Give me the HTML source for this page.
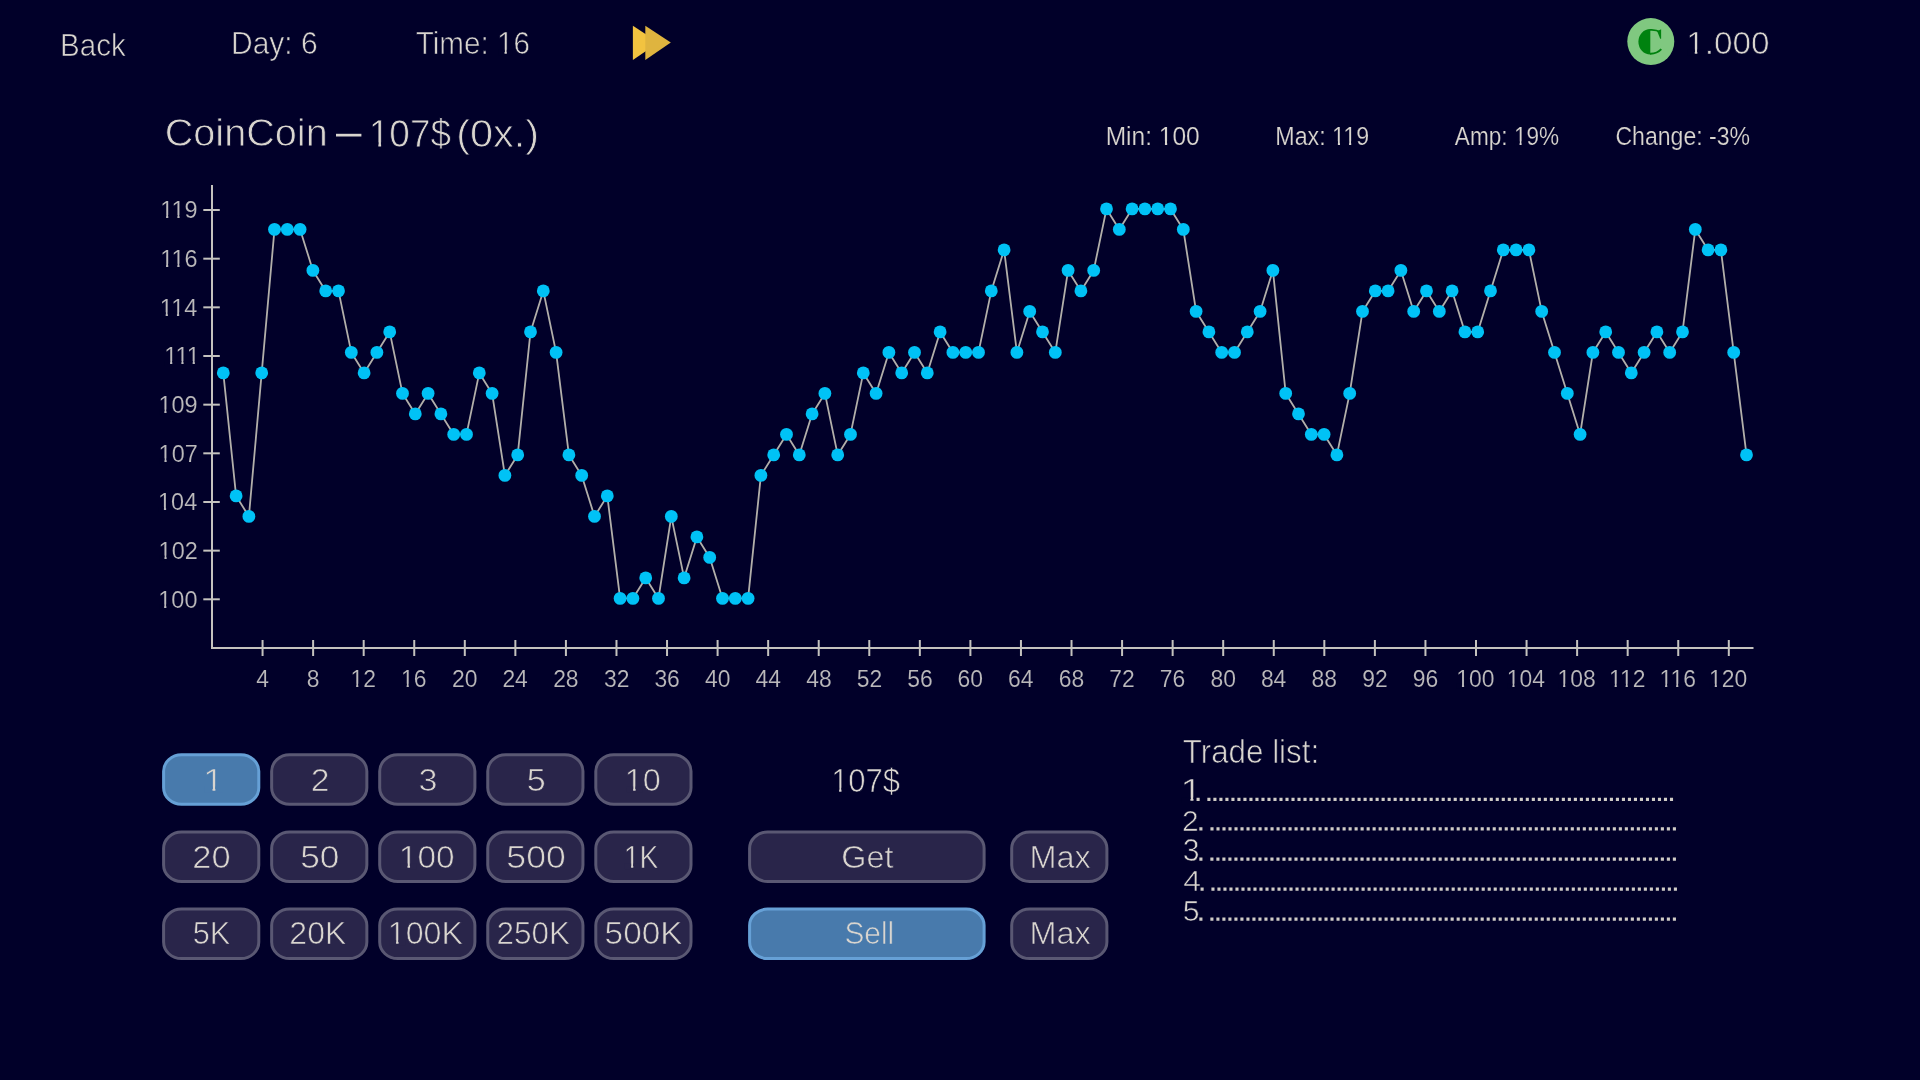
<!DOCTYPE html>
<html><head><meta charset="utf-8"><style>
html,body{margin:0;padding:0;background:#010029;width:1920px;height:1080px;overflow:hidden}
svg{display:block;will-change:transform}
</style></head><body>
<svg width="1920" height="1080" viewBox="0 0 1920 1080"><rect width="1920" height="1080" fill="#010029"/>
<g transform="translate(60.05,56.03) scale(0.9354,1)"><text font-size="31.63" fill="#d9d5cf" stroke="#010029" stroke-width="0.66" font-family="Liberation Sans" font-weight="normal">Back</text></g>
<g transform="translate(231.01,53.53) scale(0.9618,1)"><text font-size="31.18" fill="#d9d5cf" stroke="#010029" stroke-width="0.65" font-family="Liberation Sans" font-weight="normal">Day: 6</text></g>
<g transform="translate(415.72,53.63) scale(0.9322,1)"><text font-size="31.78" fill="#d9d5cf" stroke="#010029" stroke-width="0.67" font-family="Liberation Sans" font-weight="normal">Time: 16</text><path fill="#010029" d="M88.42 -3.97h6.85v5.67h-6.85zM97.71 -3.97h6.51v5.67h-6.51z"/></g>
<polygon points="632.9,25.8 658.4,42.6 632.9,60" fill="#f2c340"/>
<polygon points="645.3,25.8 670.8,42.6 645.3,60" fill="#dfb43f"/>
<circle cx="1650.8" cy="41.6" r="23.5" fill="#80c880"/>
<path d="M1650.3,29 A11.9,12.8 0 0 0 1650.3,54.6 Z" fill="#00820f"/>
<path d="M1650,29.9 Q1656,29.4 1660.5,32.2" fill="none" stroke="#00820f" stroke-width="1.8"/>
<path d="M1657.2,31.2 L1661.1,29.3 L1661.1,38.8 L1660.2,38.8 Z" fill="#00820f"/>
<path d="M1650,53.7 Q1657,53.9 1661.3,49.2" fill="none" stroke="#00820f" stroke-width="1.9"/>
<g transform="translate(1686.18,53.53) scale(1.0537,1)"><text font-size="31.63" fill="#d9d5cf" stroke="#010029" stroke-width="0.66" font-family="Liberation Sans" font-weight="normal">1.000</text><path fill="#010029" d="M1.32 -3.96h6.82v5.66h-6.82zM10.57 -3.96h6.48v5.66h-6.48z"/></g>
<g transform="translate(164.70,146.02) scale(1.0013,1)"><text font-size="39.58" fill="#d9d5cf" stroke="#010029" stroke-width="0.83" font-family="Liberation Sans" font-weight="normal">CoinCoin</text></g>
<rect x="336" y="133.8" width="25.4" height="2.7" fill="#d9d5cf"/>
<g transform="translate(368.80,146.71) scale(0.9445,1)"><text font-size="39.13" fill="#d9d5cf" stroke="#010029" stroke-width="0.82" font-family="Liberation Sans" font-weight="normal">107$</text><path fill="#010029" d="M1.87 -4.52h8.23v6.22h-8.23zM13.04 -4.52h7.81v6.22h-7.81z"/></g>
<g transform="translate(456.17,146.71) scale(1.0606,1)"><text font-size="39.13" fill="#d9d5cf" stroke="#010029" stroke-width="0.82" font-family="Liberation Sans" font-weight="normal">(0x.)</text></g>
<g transform="translate(1105.68,144.60) scale(0.9814,1)"><text font-size="25.00" fill="#d9d5cf" stroke="#010029" stroke-width="0.20" font-family="Liberation Sans" font-weight="normal">Min: 100</text><path fill="#010029" d="M54.96 -3.47h5.41v5.17h-5.41zM62.67 -3.47h5.14v5.17h-5.14z"/></g>
<g transform="translate(1275.29,144.60) scale(0.9298,1)"><text font-size="25.00" fill="#d9d5cf" stroke="#010029" stroke-width="0.20" font-family="Liberation Sans" font-weight="normal">Max: 119</text><path fill="#010029" d="M61.90 -3.47h5.41v5.17h-5.41zM69.62 -3.47h5.14v5.17h-5.14zM73.94 -3.47h5.41v5.17h-5.41zM81.66 -3.47h5.14v5.17h-5.14z"/></g>
<g transform="translate(1454.85,144.70) scale(0.8990,1)"><text font-size="25.15" fill="#d9d5cf" stroke="#010029" stroke-width="0.20" font-family="Liberation Sans" font-weight="normal">Amp: 19%</text><path fill="#010029" d="M66.51 -3.48h5.43v5.18h-5.43zM74.26 -3.48h5.16v5.18h-5.16z"/></g>
<g transform="translate(1615.45,144.70) scale(0.9172,1)"><text font-size="25.15" fill="#d9d5cf" stroke="#010029" stroke-width="0.20" font-family="Liberation Sans" font-weight="normal">Change: -3%</text></g>
<line x1="212" y1="185" x2="212" y2="649" stroke="#c4c2be" stroke-width="2"/>
<line x1="211" y1="648" x2="1753.5" y2="648" stroke="#c4c2be" stroke-width="2"/>
<line x1="203.3" y1="599.30" x2="219.8" y2="599.30" stroke="#c4c2be" stroke-width="2"/>
<g transform="translate(158.32,607.67) scale(0.9700,1)"><text font-size="24.19" fill="#bbb9bb" stroke="#010029" stroke-width="0.15" font-family="Liberation Sans" font-weight="normal">100</text><path fill="#010029" d="M0.77 -3.41h5.23v5.11h-5.23zM8.30 -3.41h4.97v5.11h-4.97z"/></g>
<line x1="203.3" y1="550.64" x2="219.8" y2="550.64" stroke="#c4c2be" stroke-width="2"/>
<g transform="translate(158.61,559.01) scale(0.9700,1)"><text font-size="24.19" fill="#bbb9bb" stroke="#010029" stroke-width="0.15" font-family="Liberation Sans" font-weight="normal">102</text><path fill="#010029" d="M0.77 -3.41h5.23v5.11h-5.23zM8.30 -3.41h4.97v5.11h-4.97z"/></g>
<line x1="203.3" y1="501.98" x2="219.8" y2="501.98" stroke="#c4c2be" stroke-width="2"/>
<g transform="translate(158.08,510.35) scale(0.9700,1)"><text font-size="24.19" fill="#bbb9bb" stroke="#010029" stroke-width="0.15" font-family="Liberation Sans" font-weight="normal">104</text><path fill="#010029" d="M0.77 -3.41h5.23v5.11h-5.23zM8.30 -3.41h4.97v5.11h-4.97z"/></g>
<line x1="203.3" y1="453.32" x2="219.8" y2="453.32" stroke="#c4c2be" stroke-width="2"/>
<g transform="translate(158.61,461.69) scale(0.9700,1)"><text font-size="24.19" fill="#bbb9bb" stroke="#010029" stroke-width="0.15" font-family="Liberation Sans" font-weight="normal">107</text><path fill="#010029" d="M0.77 -3.41h5.23v5.11h-5.23zM8.30 -3.41h4.97v5.11h-4.97z"/></g>
<line x1="203.3" y1="404.66" x2="219.8" y2="404.66" stroke="#c4c2be" stroke-width="2"/>
<g transform="translate(158.49,413.03) scale(0.9700,1)"><text font-size="24.19" fill="#bbb9bb" stroke="#010029" stroke-width="0.15" font-family="Liberation Sans" font-weight="normal">109</text><path fill="#010029" d="M0.77 -3.41h5.23v5.11h-5.23zM8.30 -3.41h4.97v5.11h-4.97z"/></g>
<line x1="203.3" y1="356.00" x2="219.8" y2="356.00" stroke="#c4c2be" stroke-width="2"/>
<g transform="translate(164.24,364.37) scale(0.9700,1)"><text font-size="24.19" fill="#bbb9bb" stroke="#010029" stroke-width="0.15" font-family="Liberation Sans" font-weight="normal">111</text><path fill="#010029" d="M0.77 -3.41h5.23v5.11h-5.23zM8.30 -3.41h4.97v5.11h-4.97zM12.41 -3.41h5.23v5.11h-5.23zM19.94 -3.41h4.97v5.11h-4.97zM24.06 -3.41h5.23v5.11h-5.23zM31.58 -3.41h4.97v5.11h-4.97z"/></g>
<line x1="203.3" y1="307.34" x2="219.8" y2="307.34" stroke="#c4c2be" stroke-width="2"/>
<g transform="translate(159.84,315.71) scale(0.9700,1)"><text font-size="24.19" fill="#bbb9bb" stroke="#010029" stroke-width="0.15" font-family="Liberation Sans" font-weight="normal">114</text><path fill="#010029" d="M0.77 -3.41h5.23v5.11h-5.23zM8.30 -3.41h4.97v5.11h-4.97zM12.41 -3.41h5.23v5.11h-5.23zM19.94 -3.41h4.97v5.11h-4.97z"/></g>
<line x1="203.3" y1="258.68" x2="219.8" y2="258.68" stroke="#c4c2be" stroke-width="2"/>
<g transform="translate(160.20,267.05) scale(0.9700,1)"><text font-size="24.19" fill="#bbb9bb" stroke="#010029" stroke-width="0.15" font-family="Liberation Sans" font-weight="normal">116</text><path fill="#010029" d="M0.77 -3.41h5.23v5.11h-5.23zM8.30 -3.41h4.97v5.11h-4.97zM12.41 -3.41h5.23v5.11h-5.23zM19.94 -3.41h4.97v5.11h-4.97z"/></g>
<line x1="203.3" y1="210.02" x2="219.8" y2="210.02" stroke="#c4c2be" stroke-width="2"/>
<g transform="translate(160.25,218.39) scale(0.9700,1)"><text font-size="24.19" fill="#bbb9bb" stroke="#010029" stroke-width="0.15" font-family="Liberation Sans" font-weight="normal">119</text><path fill="#010029" d="M0.77 -3.41h5.23v5.11h-5.23zM8.30 -3.41h4.97v5.11h-4.97zM12.41 -3.41h5.23v5.11h-5.23zM19.94 -3.41h4.97v5.11h-4.97z"/></g>
<line x1="262.56" y1="640" x2="262.56" y2="656" stroke="#c4c2be" stroke-width="2"/>
<g transform="translate(256.26,687.17) scale(0.9700,1)"><text font-size="23.61" fill="#bbb9bb" stroke="#010029" stroke-width="0.14" font-family="Liberation Sans" font-weight="normal">4</text></g>
<line x1="313.12" y1="640" x2="313.12" y2="656" stroke="#c4c2be" stroke-width="2"/>
<g transform="translate(306.77,687.17) scale(0.9700,1)"><text font-size="23.61" fill="#bbb9bb" stroke="#010029" stroke-width="0.14" font-family="Liberation Sans" font-weight="normal">8</text></g>
<line x1="363.68" y1="640" x2="363.68" y2="656" stroke="#c4c2be" stroke-width="2"/>
<g transform="translate(350.46,687.17) scale(0.9700,1)"><text font-size="23.61" fill="#bbb9bb" stroke="#010029" stroke-width="0.14" font-family="Liberation Sans" font-weight="normal">12</text><path fill="#010029" d="M0.73 -3.36h5.13v5.06h-5.13zM8.10 -3.36h4.87v5.06h-4.87z"/></g>
<line x1="414.24" y1="640" x2="414.24" y2="656" stroke="#c4c2be" stroke-width="2"/>
<g transform="translate(400.93,687.17) scale(0.9700,1)"><text font-size="23.61" fill="#bbb9bb" stroke="#010029" stroke-width="0.14" font-family="Liberation Sans" font-weight="normal">16</text><path fill="#010029" d="M0.73 -3.36h5.13v5.06h-5.13zM8.10 -3.36h4.87v5.06h-4.87z"/></g>
<line x1="464.80" y1="640" x2="464.80" y2="656" stroke="#c4c2be" stroke-width="2"/>
<g transform="translate(451.95,687.17) scale(0.9700,1)"><text font-size="23.61" fill="#bbb9bb" stroke="#010029" stroke-width="0.14" font-family="Liberation Sans" font-weight="normal">20</text></g>
<line x1="515.36" y1="640" x2="515.36" y2="656" stroke="#c4c2be" stroke-width="2"/>
<g transform="translate(502.39,687.17) scale(0.9700,1)"><text font-size="23.61" fill="#bbb9bb" stroke="#010029" stroke-width="0.14" font-family="Liberation Sans" font-weight="normal">24</text></g>
<line x1="565.92" y1="640" x2="565.92" y2="656" stroke="#c4c2be" stroke-width="2"/>
<g transform="translate(553.13,687.17) scale(0.9700,1)"><text font-size="23.61" fill="#bbb9bb" stroke="#010029" stroke-width="0.14" font-family="Liberation Sans" font-weight="normal">28</text></g>
<line x1="616.48" y1="640" x2="616.48" y2="656" stroke="#c4c2be" stroke-width="2"/>
<g transform="translate(603.91,687.17) scale(0.9700,1)"><text font-size="23.61" fill="#bbb9bb" stroke="#010029" stroke-width="0.14" font-family="Liberation Sans" font-weight="normal">32</text></g>
<line x1="667.04" y1="640" x2="667.04" y2="656" stroke="#c4c2be" stroke-width="2"/>
<g transform="translate(654.39,687.17) scale(0.9700,1)"><text font-size="23.61" fill="#bbb9bb" stroke="#010029" stroke-width="0.14" font-family="Liberation Sans" font-weight="normal">36</text></g>
<line x1="717.60" y1="640" x2="717.60" y2="656" stroke="#c4c2be" stroke-width="2"/>
<g transform="translate(705.06,687.17) scale(0.9700,1)"><text font-size="23.61" fill="#bbb9bb" stroke="#010029" stroke-width="0.14" font-family="Liberation Sans" font-weight="normal">40</text></g>
<line x1="768.16" y1="640" x2="768.16" y2="656" stroke="#c4c2be" stroke-width="2"/>
<g transform="translate(755.51,687.17) scale(0.9700,1)"><text font-size="23.61" fill="#bbb9bb" stroke="#010029" stroke-width="0.14" font-family="Liberation Sans" font-weight="normal">44</text></g>
<line x1="818.72" y1="640" x2="818.72" y2="656" stroke="#c4c2be" stroke-width="2"/>
<g transform="translate(806.24,687.17) scale(0.9700,1)"><text font-size="23.61" fill="#bbb9bb" stroke="#010029" stroke-width="0.14" font-family="Liberation Sans" font-weight="normal">48</text></g>
<line x1="869.28" y1="640" x2="869.28" y2="656" stroke="#c4c2be" stroke-width="2"/>
<g transform="translate(856.69,687.17) scale(0.9700,1)"><text font-size="23.61" fill="#bbb9bb" stroke="#010029" stroke-width="0.14" font-family="Liberation Sans" font-weight="normal">52</text></g>
<line x1="919.84" y1="640" x2="919.84" y2="656" stroke="#c4c2be" stroke-width="2"/>
<g transform="translate(907.16,687.17) scale(0.9700,1)"><text font-size="23.61" fill="#bbb9bb" stroke="#010029" stroke-width="0.14" font-family="Liberation Sans" font-weight="normal">56</text></g>
<line x1="970.40" y1="640" x2="970.40" y2="656" stroke="#c4c2be" stroke-width="2"/>
<g transform="translate(957.55,687.17) scale(0.9700,1)"><text font-size="23.61" fill="#bbb9bb" stroke="#010029" stroke-width="0.14" font-family="Liberation Sans" font-weight="normal">60</text></g>
<line x1="1020.96" y1="640" x2="1020.96" y2="656" stroke="#c4c2be" stroke-width="2"/>
<g transform="translate(1007.99,687.17) scale(0.9700,1)"><text font-size="23.61" fill="#bbb9bb" stroke="#010029" stroke-width="0.14" font-family="Liberation Sans" font-weight="normal">64</text></g>
<line x1="1071.52" y1="640" x2="1071.52" y2="656" stroke="#c4c2be" stroke-width="2"/>
<g transform="translate(1058.73,687.17) scale(0.9700,1)"><text font-size="23.61" fill="#bbb9bb" stroke="#010029" stroke-width="0.14" font-family="Liberation Sans" font-weight="normal">68</text></g>
<line x1="1122.08" y1="640" x2="1122.08" y2="656" stroke="#c4c2be" stroke-width="2"/>
<g transform="translate(1109.37,687.17) scale(0.9700,1)"><text font-size="23.61" fill="#bbb9bb" stroke="#010029" stroke-width="0.14" font-family="Liberation Sans" font-weight="normal">72</text></g>
<line x1="1172.64" y1="640" x2="1172.64" y2="656" stroke="#c4c2be" stroke-width="2"/>
<g transform="translate(1159.85,687.17) scale(0.9700,1)"><text font-size="23.61" fill="#bbb9bb" stroke="#010029" stroke-width="0.14" font-family="Liberation Sans" font-weight="normal">76</text></g>
<line x1="1223.20" y1="640" x2="1223.20" y2="656" stroke="#c4c2be" stroke-width="2"/>
<g transform="translate(1210.43,687.17) scale(0.9700,1)"><text font-size="23.61" fill="#bbb9bb" stroke="#010029" stroke-width="0.14" font-family="Liberation Sans" font-weight="normal">80</text></g>
<line x1="1273.76" y1="640" x2="1273.76" y2="656" stroke="#c4c2be" stroke-width="2"/>
<g transform="translate(1260.88,687.17) scale(0.9700,1)"><text font-size="23.61" fill="#bbb9bb" stroke="#010029" stroke-width="0.14" font-family="Liberation Sans" font-weight="normal">84</text></g>
<line x1="1324.32" y1="640" x2="1324.32" y2="656" stroke="#c4c2be" stroke-width="2"/>
<g transform="translate(1311.61,687.17) scale(0.9700,1)"><text font-size="23.61" fill="#bbb9bb" stroke="#010029" stroke-width="0.14" font-family="Liberation Sans" font-weight="normal">88</text></g>
<line x1="1374.88" y1="640" x2="1374.88" y2="656" stroke="#c4c2be" stroke-width="2"/>
<g transform="translate(1362.20,687.17) scale(0.9700,1)"><text font-size="23.61" fill="#bbb9bb" stroke="#010029" stroke-width="0.14" font-family="Liberation Sans" font-weight="normal">92</text></g>
<line x1="1425.44" y1="640" x2="1425.44" y2="656" stroke="#c4c2be" stroke-width="2"/>
<g transform="translate(1412.67,687.17) scale(0.9700,1)"><text font-size="23.61" fill="#bbb9bb" stroke="#010029" stroke-width="0.14" font-family="Liberation Sans" font-weight="normal">96</text></g>
<line x1="1476.00" y1="640" x2="1476.00" y2="656" stroke="#c4c2be" stroke-width="2"/>
<g transform="translate(1456.25,687.17) scale(0.9700,1)"><text font-size="23.61" fill="#bbb9bb" stroke="#010029" stroke-width="0.14" font-family="Liberation Sans" font-weight="normal">100</text><path fill="#010029" d="M0.73 -3.36h5.13v5.06h-5.13zM8.10 -3.36h4.87v5.06h-4.87z"/></g>
<line x1="1526.56" y1="640" x2="1526.56" y2="656" stroke="#c4c2be" stroke-width="2"/>
<g transform="translate(1506.70,687.17) scale(0.9700,1)"><text font-size="23.61" fill="#bbb9bb" stroke="#010029" stroke-width="0.14" font-family="Liberation Sans" font-weight="normal">104</text><path fill="#010029" d="M0.73 -3.36h5.13v5.06h-5.13zM8.10 -3.36h4.87v5.06h-4.87z"/></g>
<line x1="1577.12" y1="640" x2="1577.12" y2="656" stroke="#c4c2be" stroke-width="2"/>
<g transform="translate(1557.43,687.17) scale(0.9700,1)"><text font-size="23.61" fill="#bbb9bb" stroke="#010029" stroke-width="0.14" font-family="Liberation Sans" font-weight="normal">108</text><path fill="#010029" d="M0.73 -3.36h5.13v5.06h-5.13zM8.10 -3.36h4.87v5.06h-4.87z"/></g>
<line x1="1627.68" y1="640" x2="1627.68" y2="656" stroke="#c4c2be" stroke-width="2"/>
<g transform="translate(1608.93,687.17) scale(0.9700,1)"><text font-size="23.61" fill="#bbb9bb" stroke="#010029" stroke-width="0.14" font-family="Liberation Sans" font-weight="normal">112</text><path fill="#010029" d="M0.73 -3.36h5.13v5.06h-5.13zM8.10 -3.36h4.87v5.06h-4.87zM12.10 -3.36h5.13v5.06h-5.13zM19.47 -3.36h4.87v5.06h-4.87z"/></g>
<line x1="1678.24" y1="640" x2="1678.24" y2="656" stroke="#c4c2be" stroke-width="2"/>
<g transform="translate(1659.41,687.17) scale(0.9700,1)"><text font-size="23.61" fill="#bbb9bb" stroke="#010029" stroke-width="0.14" font-family="Liberation Sans" font-weight="normal">116</text><path fill="#010029" d="M0.73 -3.36h5.13v5.06h-5.13zM8.10 -3.36h4.87v5.06h-4.87zM12.10 -3.36h5.13v5.06h-5.13zM19.47 -3.36h4.87v5.06h-4.87z"/></g>
<line x1="1728.80" y1="640" x2="1728.80" y2="656" stroke="#c4c2be" stroke-width="2"/>
<g transform="translate(1709.05,687.17) scale(0.9700,1)"><text font-size="23.61" fill="#bbb9bb" stroke="#010029" stroke-width="0.14" font-family="Liberation Sans" font-weight="normal">120</text><path fill="#010029" d="M0.73 -3.36h5.13v5.06h-5.13zM8.10 -3.36h4.87v5.06h-4.87z"/></g>
<polyline points="223.30,372.90 236.10,495.90 248.90,516.40 261.70,372.90 274.50,229.40 287.30,229.40 300.10,229.40 312.90,270.40 325.70,290.90 338.50,290.90 351.30,352.40 364.10,372.90 376.90,352.40 389.70,331.90 402.50,393.40 415.30,413.90 428.10,393.40 440.90,413.90 453.70,434.40 466.50,434.40 479.30,372.90 492.10,393.40 504.90,475.40 517.70,454.90 530.50,331.90 543.30,290.90 556.10,352.40 568.90,454.90 581.70,475.40 594.50,516.40 607.30,495.90 620.10,598.40 632.90,598.40 645.70,577.90 658.50,598.40 671.30,516.40 684.10,577.90 696.90,536.90 709.70,557.40 722.50,598.40 735.30,598.40 748.10,598.40 760.90,475.40 773.70,454.90 786.50,434.40 799.30,454.90 812.10,413.90 824.90,393.40 837.70,454.90 850.50,434.40 863.30,372.90 876.10,393.40 888.90,352.40 901.70,372.90 914.50,352.40 927.30,372.90 940.10,331.90 952.90,352.40 965.70,352.40 978.50,352.40 991.30,290.90 1004.10,249.90 1016.90,352.40 1029.70,311.40 1042.50,331.90 1055.30,352.40 1068.10,270.40 1080.90,290.90 1093.70,270.40 1106.50,208.90 1119.30,229.40 1132.10,208.90 1144.90,208.90 1157.70,208.90 1170.50,208.90 1183.30,229.40 1196.10,311.40 1208.90,331.90 1221.70,352.40 1234.50,352.40 1247.30,331.90 1260.10,311.40 1272.90,270.40 1285.70,393.40 1298.50,413.90 1311.30,434.40 1324.10,434.40 1336.90,454.90 1349.70,393.40 1362.50,311.40 1375.30,290.90 1388.10,290.90 1400.90,270.40 1413.70,311.40 1426.50,290.90 1439.30,311.40 1452.10,290.90 1464.90,331.90 1477.70,331.90 1490.50,290.90 1503.30,249.90 1516.10,249.90 1528.90,249.90 1541.70,311.40 1554.50,352.40 1567.30,393.40 1580.10,434.40 1592.90,352.40 1605.70,331.90 1618.50,352.40 1631.30,372.90 1644.10,352.40 1656.90,331.90 1669.70,352.40 1682.50,331.90 1695.30,229.40 1708.10,249.90 1720.90,249.90 1733.70,352.40 1746.50,454.90" fill="none" stroke="#b2afaa" stroke-width="1.8" stroke-linejoin="round"/>
<circle cx="223.30" cy="372.90" r="6.4" fill="#00c2f6"/>
<circle cx="236.10" cy="495.90" r="6.4" fill="#00c2f6"/>
<circle cx="248.90" cy="516.40" r="6.4" fill="#00c2f6"/>
<circle cx="261.70" cy="372.90" r="6.4" fill="#00c2f6"/>
<circle cx="274.50" cy="229.40" r="6.4" fill="#00c2f6"/>
<circle cx="287.30" cy="229.40" r="6.4" fill="#00c2f6"/>
<circle cx="300.10" cy="229.40" r="6.4" fill="#00c2f6"/>
<circle cx="312.90" cy="270.40" r="6.4" fill="#00c2f6"/>
<circle cx="325.70" cy="290.90" r="6.4" fill="#00c2f6"/>
<circle cx="338.50" cy="290.90" r="6.4" fill="#00c2f6"/>
<circle cx="351.30" cy="352.40" r="6.4" fill="#00c2f6"/>
<circle cx="364.10" cy="372.90" r="6.4" fill="#00c2f6"/>
<circle cx="376.90" cy="352.40" r="6.4" fill="#00c2f6"/>
<circle cx="389.70" cy="331.90" r="6.4" fill="#00c2f6"/>
<circle cx="402.50" cy="393.40" r="6.4" fill="#00c2f6"/>
<circle cx="415.30" cy="413.90" r="6.4" fill="#00c2f6"/>
<circle cx="428.10" cy="393.40" r="6.4" fill="#00c2f6"/>
<circle cx="440.90" cy="413.90" r="6.4" fill="#00c2f6"/>
<circle cx="453.70" cy="434.40" r="6.4" fill="#00c2f6"/>
<circle cx="466.50" cy="434.40" r="6.4" fill="#00c2f6"/>
<circle cx="479.30" cy="372.90" r="6.4" fill="#00c2f6"/>
<circle cx="492.10" cy="393.40" r="6.4" fill="#00c2f6"/>
<circle cx="504.90" cy="475.40" r="6.4" fill="#00c2f6"/>
<circle cx="517.70" cy="454.90" r="6.4" fill="#00c2f6"/>
<circle cx="530.50" cy="331.90" r="6.4" fill="#00c2f6"/>
<circle cx="543.30" cy="290.90" r="6.4" fill="#00c2f6"/>
<circle cx="556.10" cy="352.40" r="6.4" fill="#00c2f6"/>
<circle cx="568.90" cy="454.90" r="6.4" fill="#00c2f6"/>
<circle cx="581.70" cy="475.40" r="6.4" fill="#00c2f6"/>
<circle cx="594.50" cy="516.40" r="6.4" fill="#00c2f6"/>
<circle cx="607.30" cy="495.90" r="6.4" fill="#00c2f6"/>
<circle cx="620.10" cy="598.40" r="6.4" fill="#00c2f6"/>
<circle cx="632.90" cy="598.40" r="6.4" fill="#00c2f6"/>
<circle cx="645.70" cy="577.90" r="6.4" fill="#00c2f6"/>
<circle cx="658.50" cy="598.40" r="6.4" fill="#00c2f6"/>
<circle cx="671.30" cy="516.40" r="6.4" fill="#00c2f6"/>
<circle cx="684.10" cy="577.90" r="6.4" fill="#00c2f6"/>
<circle cx="696.90" cy="536.90" r="6.4" fill="#00c2f6"/>
<circle cx="709.70" cy="557.40" r="6.4" fill="#00c2f6"/>
<circle cx="722.50" cy="598.40" r="6.4" fill="#00c2f6"/>
<circle cx="735.30" cy="598.40" r="6.4" fill="#00c2f6"/>
<circle cx="748.10" cy="598.40" r="6.4" fill="#00c2f6"/>
<circle cx="760.90" cy="475.40" r="6.4" fill="#00c2f6"/>
<circle cx="773.70" cy="454.90" r="6.4" fill="#00c2f6"/>
<circle cx="786.50" cy="434.40" r="6.4" fill="#00c2f6"/>
<circle cx="799.30" cy="454.90" r="6.4" fill="#00c2f6"/>
<circle cx="812.10" cy="413.90" r="6.4" fill="#00c2f6"/>
<circle cx="824.90" cy="393.40" r="6.4" fill="#00c2f6"/>
<circle cx="837.70" cy="454.90" r="6.4" fill="#00c2f6"/>
<circle cx="850.50" cy="434.40" r="6.4" fill="#00c2f6"/>
<circle cx="863.30" cy="372.90" r="6.4" fill="#00c2f6"/>
<circle cx="876.10" cy="393.40" r="6.4" fill="#00c2f6"/>
<circle cx="888.90" cy="352.40" r="6.4" fill="#00c2f6"/>
<circle cx="901.70" cy="372.90" r="6.4" fill="#00c2f6"/>
<circle cx="914.50" cy="352.40" r="6.4" fill="#00c2f6"/>
<circle cx="927.30" cy="372.90" r="6.4" fill="#00c2f6"/>
<circle cx="940.10" cy="331.90" r="6.4" fill="#00c2f6"/>
<circle cx="952.90" cy="352.40" r="6.4" fill="#00c2f6"/>
<circle cx="965.70" cy="352.40" r="6.4" fill="#00c2f6"/>
<circle cx="978.50" cy="352.40" r="6.4" fill="#00c2f6"/>
<circle cx="991.30" cy="290.90" r="6.4" fill="#00c2f6"/>
<circle cx="1004.10" cy="249.90" r="6.4" fill="#00c2f6"/>
<circle cx="1016.90" cy="352.40" r="6.4" fill="#00c2f6"/>
<circle cx="1029.70" cy="311.40" r="6.4" fill="#00c2f6"/>
<circle cx="1042.50" cy="331.90" r="6.4" fill="#00c2f6"/>
<circle cx="1055.30" cy="352.40" r="6.4" fill="#00c2f6"/>
<circle cx="1068.10" cy="270.40" r="6.4" fill="#00c2f6"/>
<circle cx="1080.90" cy="290.90" r="6.4" fill="#00c2f6"/>
<circle cx="1093.70" cy="270.40" r="6.4" fill="#00c2f6"/>
<circle cx="1106.50" cy="208.90" r="6.4" fill="#00c2f6"/>
<circle cx="1119.30" cy="229.40" r="6.4" fill="#00c2f6"/>
<circle cx="1132.10" cy="208.90" r="6.4" fill="#00c2f6"/>
<circle cx="1144.90" cy="208.90" r="6.4" fill="#00c2f6"/>
<circle cx="1157.70" cy="208.90" r="6.4" fill="#00c2f6"/>
<circle cx="1170.50" cy="208.90" r="6.4" fill="#00c2f6"/>
<circle cx="1183.30" cy="229.40" r="6.4" fill="#00c2f6"/>
<circle cx="1196.10" cy="311.40" r="6.4" fill="#00c2f6"/>
<circle cx="1208.90" cy="331.90" r="6.4" fill="#00c2f6"/>
<circle cx="1221.70" cy="352.40" r="6.4" fill="#00c2f6"/>
<circle cx="1234.50" cy="352.40" r="6.4" fill="#00c2f6"/>
<circle cx="1247.30" cy="331.90" r="6.4" fill="#00c2f6"/>
<circle cx="1260.10" cy="311.40" r="6.4" fill="#00c2f6"/>
<circle cx="1272.90" cy="270.40" r="6.4" fill="#00c2f6"/>
<circle cx="1285.70" cy="393.40" r="6.4" fill="#00c2f6"/>
<circle cx="1298.50" cy="413.90" r="6.4" fill="#00c2f6"/>
<circle cx="1311.30" cy="434.40" r="6.4" fill="#00c2f6"/>
<circle cx="1324.10" cy="434.40" r="6.4" fill="#00c2f6"/>
<circle cx="1336.90" cy="454.90" r="6.4" fill="#00c2f6"/>
<circle cx="1349.70" cy="393.40" r="6.4" fill="#00c2f6"/>
<circle cx="1362.50" cy="311.40" r="6.4" fill="#00c2f6"/>
<circle cx="1375.30" cy="290.90" r="6.4" fill="#00c2f6"/>
<circle cx="1388.10" cy="290.90" r="6.4" fill="#00c2f6"/>
<circle cx="1400.90" cy="270.40" r="6.4" fill="#00c2f6"/>
<circle cx="1413.70" cy="311.40" r="6.4" fill="#00c2f6"/>
<circle cx="1426.50" cy="290.90" r="6.4" fill="#00c2f6"/>
<circle cx="1439.30" cy="311.40" r="6.4" fill="#00c2f6"/>
<circle cx="1452.10" cy="290.90" r="6.4" fill="#00c2f6"/>
<circle cx="1464.90" cy="331.90" r="6.4" fill="#00c2f6"/>
<circle cx="1477.70" cy="331.90" r="6.4" fill="#00c2f6"/>
<circle cx="1490.50" cy="290.90" r="6.4" fill="#00c2f6"/>
<circle cx="1503.30" cy="249.90" r="6.4" fill="#00c2f6"/>
<circle cx="1516.10" cy="249.90" r="6.4" fill="#00c2f6"/>
<circle cx="1528.90" cy="249.90" r="6.4" fill="#00c2f6"/>
<circle cx="1541.70" cy="311.40" r="6.4" fill="#00c2f6"/>
<circle cx="1554.50" cy="352.40" r="6.4" fill="#00c2f6"/>
<circle cx="1567.30" cy="393.40" r="6.4" fill="#00c2f6"/>
<circle cx="1580.10" cy="434.40" r="6.4" fill="#00c2f6"/>
<circle cx="1592.90" cy="352.40" r="6.4" fill="#00c2f6"/>
<circle cx="1605.70" cy="331.90" r="6.4" fill="#00c2f6"/>
<circle cx="1618.50" cy="352.40" r="6.4" fill="#00c2f6"/>
<circle cx="1631.30" cy="372.90" r="6.4" fill="#00c2f6"/>
<circle cx="1644.10" cy="352.40" r="6.4" fill="#00c2f6"/>
<circle cx="1656.90" cy="331.90" r="6.4" fill="#00c2f6"/>
<circle cx="1669.70" cy="352.40" r="6.4" fill="#00c2f6"/>
<circle cx="1682.50" cy="331.90" r="6.4" fill="#00c2f6"/>
<circle cx="1695.30" cy="229.40" r="6.4" fill="#00c2f6"/>
<circle cx="1708.10" cy="249.90" r="6.4" fill="#00c2f6"/>
<circle cx="1720.90" cy="249.90" r="6.4" fill="#00c2f6"/>
<circle cx="1733.70" cy="352.40" r="6.4" fill="#00c2f6"/>
<circle cx="1746.50" cy="454.90" r="6.4" fill="#00c2f6"/>
<rect x="163.60" y="754.80" width="95.20" height="49.50" rx="18" ry="16.5" fill="#487aac" stroke="#66a0d6" stroke-width="3"/>
<g transform="translate(202.92,790.54) scale(1.1673,1)"><text font-size="31.93" fill="#d9d5cf" stroke="#487aac" stroke-width="0.67" font-family="Liberation Sans" font-weight="normal">1</text><path fill="#487aac" d="M1.34 -3.99h6.88v5.69h-6.88zM10.67 -3.99h6.53v5.69h-6.53z"/></g>
<rect x="271.65" y="754.80" width="95.20" height="49.50" rx="18" ry="16.5" fill="#29254a" stroke="#5a5873" stroke-width="3"/>
<g transform="translate(310.66,790.54) scale(1.0534,1)"><text font-size="31.93" fill="#d9d5cf" stroke="#29254a" stroke-width="0.67" font-family="Liberation Sans" font-weight="normal">2</text></g>
<rect x="379.70" y="754.80" width="95.20" height="49.50" rx="18" ry="16.5" fill="#29254a" stroke="#5a5873" stroke-width="3"/>
<g transform="translate(418.46,790.54) scale(1.0691,1)"><text font-size="31.93" fill="#d9d5cf" stroke="#29254a" stroke-width="0.67" font-family="Liberation Sans" font-weight="normal">3</text></g>
<rect x="487.75" y="754.80" width="95.20" height="49.50" rx="18" ry="16.5" fill="#29254a" stroke="#5a5873" stroke-width="3"/>
<g transform="translate(526.68,790.54) scale(1.0691,1)"><text font-size="31.93" fill="#d9d5cf" stroke="#29254a" stroke-width="0.67" font-family="Liberation Sans" font-weight="normal">5</text></g>
<rect x="595.80" y="754.80" width="95.20" height="49.50" rx="18" ry="16.5" fill="#29254a" stroke="#5a5873" stroke-width="3"/>
<g transform="translate(624.78,790.54) scale(1.0149,1)"><text font-size="31.93" fill="#d9d5cf" stroke="#29254a" stroke-width="0.67" font-family="Liberation Sans" font-weight="normal">10</text><path fill="#29254a" d="M1.34 -3.99h6.88v5.69h-6.88zM10.67 -3.99h6.53v5.69h-6.53z"/></g>
<rect x="163.60" y="832.00" width="95.20" height="49.50" rx="18" ry="16.5" fill="#29254a" stroke="#5a5873" stroke-width="3"/>
<g transform="translate(192.21,867.53) scale(1.0973,1)"><text font-size="31.48" fill="#d9d5cf" stroke="#29254a" stroke-width="0.66" font-family="Liberation Sans" font-weight="normal">20</text></g>
<rect x="271.65" y="832.00" width="95.20" height="49.50" rx="18" ry="16.5" fill="#29254a" stroke="#5a5873" stroke-width="3"/>
<g transform="translate(300.22,867.53) scale(1.1210,1)"><text font-size="31.48" fill="#d9d5cf" stroke="#29254a" stroke-width="0.66" font-family="Liberation Sans" font-weight="normal">50</text></g>
<rect x="379.70" y="832.00" width="95.20" height="49.50" rx="18" ry="16.5" fill="#29254a" stroke="#5a5873" stroke-width="3"/>
<g transform="translate(398.87,867.53) scale(1.0615,1)"><text font-size="31.48" fill="#d9d5cf" stroke="#29254a" stroke-width="0.66" font-family="Liberation Sans" font-weight="normal">100</text><path fill="#29254a" d="M1.31 -3.95h6.79v5.65h-6.79zM10.52 -3.95h6.45v5.65h-6.45z"/></g>
<rect x="487.75" y="832.00" width="95.20" height="49.50" rx="18" ry="16.5" fill="#29254a" stroke="#5a5873" stroke-width="3"/>
<g transform="translate(506.30,867.53) scale(1.1336,1)"><text font-size="31.48" fill="#d9d5cf" stroke="#29254a" stroke-width="0.66" font-family="Liberation Sans" font-weight="normal">500</text></g>
<rect x="595.80" y="832.00" width="95.20" height="49.50" rx="18" ry="16.5" fill="#29254a" stroke="#5a5873" stroke-width="3"/>
<g transform="translate(623.81,867.53) scale(0.9000,1)"><text font-size="31.48" fill="#d9d5cf" stroke="#29254a" stroke-width="0.66" font-family="Liberation Sans" font-weight="normal">1K</text><path fill="#29254a" d="M1.31 -3.95h6.79v5.65h-6.79zM10.52 -3.95h6.45v5.65h-6.45z"/></g>
<rect x="163.60" y="909.10" width="95.20" height="49.50" rx="18" ry="16.5" fill="#29254a" stroke="#5a5873" stroke-width="3"/>
<g transform="translate(192.74,944.03) scale(0.9832,1)"><text font-size="31.33" fill="#d9d5cf" stroke="#29254a" stroke-width="0.66" font-family="Liberation Sans" font-weight="normal">5K</text></g>
<rect x="271.65" y="909.10" width="95.20" height="49.50" rx="18" ry="16.5" fill="#29254a" stroke="#5a5873" stroke-width="3"/>
<g transform="translate(289.36,944.03) scale(1.0215,1)"><text font-size="31.33" fill="#d9d5cf" stroke="#29254a" stroke-width="0.66" font-family="Liberation Sans" font-weight="normal">20K</text></g>
<rect x="379.70" y="909.10" width="95.20" height="49.50" rx="18" ry="16.5" fill="#29254a" stroke="#5a5873" stroke-width="3"/>
<g transform="translate(387.80,944.03) scale(1.0284,1)"><text font-size="31.33" fill="#d9d5cf" stroke="#29254a" stroke-width="0.66" font-family="Liberation Sans" font-weight="normal">100K</text><path fill="#29254a" d="M1.29 -3.94h6.76v5.64h-6.76zM10.47 -3.94h6.43v5.64h-6.43z"/></g>
<rect x="487.75" y="909.10" width="95.20" height="49.50" rx="18" ry="16.5" fill="#29254a" stroke="#5a5873" stroke-width="3"/>
<g transform="translate(496.39,944.03) scale(1.0050,1)"><text font-size="31.33" fill="#d9d5cf" stroke="#29254a" stroke-width="0.66" font-family="Liberation Sans" font-weight="normal">250K</text></g>
<rect x="595.80" y="909.10" width="95.20" height="49.50" rx="18" ry="16.5" fill="#29254a" stroke="#5a5873" stroke-width="3"/>
<g transform="translate(604.62,944.03) scale(1.0640,1)"><text font-size="31.33" fill="#d9d5cf" stroke="#29254a" stroke-width="0.66" font-family="Liberation Sans" font-weight="normal">500K</text></g>
<rect x="749.60" y="832.00" width="234.50" height="49.50" rx="18" ry="16.5" fill="#29254a" stroke="#5a5873" stroke-width="3"/>
<g transform="translate(841.34,867.53) scale(1.0270,1)"><text font-size="31.48" fill="#d9d5cf" stroke="#29254a" stroke-width="0.66" font-family="Liberation Sans" font-weight="normal">Get</text></g>
<rect x="1011.70" y="832.00" width="95.20" height="49.50" rx="18" ry="16.5" fill="#29254a" stroke="#5a5873" stroke-width="3"/>
<g transform="translate(1029.38,867.53) scale(1.0313,1)"><text font-size="31.48" fill="#d9d5cf" stroke="#29254a" stroke-width="0.66" font-family="Liberation Sans" font-weight="normal">Max</text></g>
<rect x="749.60" y="909.10" width="234.50" height="49.50" rx="18" ry="16.5" fill="#487aac" stroke="#66a0d6" stroke-width="3"/>
<g transform="translate(844.44,944.03) scale(0.9528,1)"><text font-size="31.33" fill="#d9d5cf" stroke="#487aac" stroke-width="0.66" font-family="Liberation Sans" font-weight="normal">Sell</text></g>
<rect x="1011.70" y="909.10" width="95.20" height="49.50" rx="18" ry="16.5" fill="#29254a" stroke="#5a5873" stroke-width="3"/>
<g transform="translate(1029.38,944.03) scale(1.0362,1)"><text font-size="31.33" fill="#d9d5cf" stroke="#29254a" stroke-width="0.66" font-family="Liberation Sans" font-weight="normal">Max</text></g>
<g transform="translate(831.13,791.84) scale(0.9538,1)"><text font-size="32.53" fill="#d9d5cf" stroke="#010029" stroke-width="0.68" font-family="Liberation Sans" font-weight="normal">107$</text><path fill="#010029" d="M1.38 -4.03h6.99v5.73h-6.99zM10.86 -4.03h6.64v5.73h-6.64z"/></g>
<g transform="translate(1182.77,763.45) scale(0.9457,1)"><text font-size="33.13" fill="#d9d5cf" stroke="#010029" stroke-width="0.70" font-family="Liberation Sans" font-weight="normal">Trade list:</text></g>
<g transform="translate(1180.21,801.42) scale(1.3055,1)"><text font-size="30.43" fill="#d9d5cf" stroke="#010029" stroke-width="0.64" font-family="Liberation Sans" font-weight="normal">1</text><path fill="#010029" d="M1.23 -3.87h6.59v5.57h-6.59zM10.17 -3.87h6.27v5.57h-6.27z"/></g>
<path fill="#d0ccc6" d="M1196.55 797.70h3.1v3.4h-3.1zM1207.35 797.70h3.1v3.4h-3.1zM1213.36 797.70h3.1v3.4h-3.1zM1219.37 797.70h3.1v3.4h-3.1zM1225.37 797.70h3.1v3.4h-3.1zM1231.38 797.70h3.1v3.4h-3.1zM1237.39 797.70h3.1v3.4h-3.1zM1243.40 797.70h3.1v3.4h-3.1zM1249.40 797.70h3.1v3.4h-3.1zM1255.41 797.70h3.1v3.4h-3.1zM1261.42 797.70h3.1v3.4h-3.1zM1267.43 797.70h3.1v3.4h-3.1zM1273.44 797.70h3.1v3.4h-3.1zM1279.44 797.70h3.1v3.4h-3.1zM1285.45 797.70h3.1v3.4h-3.1zM1291.46 797.70h3.1v3.4h-3.1zM1297.47 797.70h3.1v3.4h-3.1zM1303.47 797.70h3.1v3.4h-3.1zM1309.48 797.70h3.1v3.4h-3.1zM1315.49 797.70h3.1v3.4h-3.1zM1321.50 797.70h3.1v3.4h-3.1zM1327.51 797.70h3.1v3.4h-3.1zM1333.51 797.70h3.1v3.4h-3.1zM1339.52 797.70h3.1v3.4h-3.1zM1345.53 797.70h3.1v3.4h-3.1zM1351.54 797.70h3.1v3.4h-3.1zM1357.54 797.70h3.1v3.4h-3.1zM1363.55 797.70h3.1v3.4h-3.1zM1369.56 797.70h3.1v3.4h-3.1zM1375.57 797.70h3.1v3.4h-3.1zM1381.58 797.70h3.1v3.4h-3.1zM1387.58 797.70h3.1v3.4h-3.1zM1393.59 797.70h3.1v3.4h-3.1zM1399.60 797.70h3.1v3.4h-3.1zM1405.61 797.70h3.1v3.4h-3.1zM1411.61 797.70h3.1v3.4h-3.1zM1417.62 797.70h3.1v3.4h-3.1zM1423.63 797.70h3.1v3.4h-3.1zM1429.64 797.70h3.1v3.4h-3.1zM1435.65 797.70h3.1v3.4h-3.1zM1441.65 797.70h3.1v3.4h-3.1zM1447.66 797.70h3.1v3.4h-3.1zM1453.67 797.70h3.1v3.4h-3.1zM1459.68 797.70h3.1v3.4h-3.1zM1465.69 797.70h3.1v3.4h-3.1zM1471.69 797.70h3.1v3.4h-3.1zM1477.70 797.70h3.1v3.4h-3.1zM1483.71 797.70h3.1v3.4h-3.1zM1489.72 797.70h3.1v3.4h-3.1zM1495.72 797.70h3.1v3.4h-3.1zM1501.73 797.70h3.1v3.4h-3.1zM1507.74 797.70h3.1v3.4h-3.1zM1513.75 797.70h3.1v3.4h-3.1zM1519.76 797.70h3.1v3.4h-3.1zM1525.76 797.70h3.1v3.4h-3.1zM1531.77 797.70h3.1v3.4h-3.1zM1537.78 797.70h3.1v3.4h-3.1zM1543.79 797.70h3.1v3.4h-3.1zM1549.79 797.70h3.1v3.4h-3.1zM1555.80 797.70h3.1v3.4h-3.1zM1561.81 797.70h3.1v3.4h-3.1zM1567.82 797.70h3.1v3.4h-3.1zM1573.83 797.70h3.1v3.4h-3.1zM1579.83 797.70h3.1v3.4h-3.1zM1585.84 797.70h3.1v3.4h-3.1zM1591.85 797.70h3.1v3.4h-3.1zM1597.86 797.70h3.1v3.4h-3.1zM1603.86 797.70h3.1v3.4h-3.1zM1609.87 797.70h3.1v3.4h-3.1zM1615.88 797.70h3.1v3.4h-3.1zM1621.89 797.70h3.1v3.4h-3.1zM1627.90 797.70h3.1v3.4h-3.1zM1633.90 797.70h3.1v3.4h-3.1zM1639.91 797.70h3.1v3.4h-3.1zM1645.92 797.70h3.1v3.4h-3.1zM1651.93 797.70h3.1v3.4h-3.1zM1657.93 797.70h3.1v3.4h-3.1zM1663.94 797.70h3.1v3.4h-3.1zM1669.95 797.70h3.1v3.4h-3.1z"/>
<g transform="translate(1182.09,830.91) scale(0.9990,1)"><text font-size="29.99" fill="#d9d5cf" stroke="#010029" stroke-width="0.63" font-family="Liberation Sans" font-weight="normal">2</text></g>
<path fill="#d0ccc6" d="M1199.35 827.20h3.1v3.4h-3.1zM1210.45 827.20h3.1v3.4h-3.1zM1216.46 827.20h3.1v3.4h-3.1zM1222.46 827.20h3.1v3.4h-3.1zM1228.47 827.20h3.1v3.4h-3.1zM1234.47 827.20h3.1v3.4h-3.1zM1240.48 827.20h3.1v3.4h-3.1zM1246.48 827.20h3.1v3.4h-3.1zM1252.49 827.20h3.1v3.4h-3.1zM1258.49 827.20h3.1v3.4h-3.1zM1264.50 827.20h3.1v3.4h-3.1zM1270.50 827.20h3.1v3.4h-3.1zM1276.51 827.20h3.1v3.4h-3.1zM1282.51 827.20h3.1v3.4h-3.1zM1288.52 827.20h3.1v3.4h-3.1zM1294.52 827.20h3.1v3.4h-3.1zM1300.53 827.20h3.1v3.4h-3.1zM1306.53 827.20h3.1v3.4h-3.1zM1312.54 827.20h3.1v3.4h-3.1zM1318.54 827.20h3.1v3.4h-3.1zM1324.55 827.20h3.1v3.4h-3.1zM1330.55 827.20h3.1v3.4h-3.1zM1336.56 827.20h3.1v3.4h-3.1zM1342.56 827.20h3.1v3.4h-3.1zM1348.57 827.20h3.1v3.4h-3.1zM1354.57 827.20h3.1v3.4h-3.1zM1360.58 827.20h3.1v3.4h-3.1zM1366.59 827.20h3.1v3.4h-3.1zM1372.59 827.20h3.1v3.4h-3.1zM1378.60 827.20h3.1v3.4h-3.1zM1384.60 827.20h3.1v3.4h-3.1zM1390.61 827.20h3.1v3.4h-3.1zM1396.61 827.20h3.1v3.4h-3.1zM1402.62 827.20h3.1v3.4h-3.1zM1408.62 827.20h3.1v3.4h-3.1zM1414.63 827.20h3.1v3.4h-3.1zM1420.63 827.20h3.1v3.4h-3.1zM1426.64 827.20h3.1v3.4h-3.1zM1432.64 827.20h3.1v3.4h-3.1zM1438.65 827.20h3.1v3.4h-3.1zM1444.65 827.20h3.1v3.4h-3.1zM1450.66 827.20h3.1v3.4h-3.1zM1456.66 827.20h3.1v3.4h-3.1zM1462.67 827.20h3.1v3.4h-3.1zM1468.67 827.20h3.1v3.4h-3.1zM1474.68 827.20h3.1v3.4h-3.1zM1480.68 827.20h3.1v3.4h-3.1zM1486.69 827.20h3.1v3.4h-3.1zM1492.69 827.20h3.1v3.4h-3.1zM1498.70 827.20h3.1v3.4h-3.1zM1504.70 827.20h3.1v3.4h-3.1zM1510.71 827.20h3.1v3.4h-3.1zM1516.71 827.20h3.1v3.4h-3.1zM1522.72 827.20h3.1v3.4h-3.1zM1528.73 827.20h3.1v3.4h-3.1zM1534.73 827.20h3.1v3.4h-3.1zM1540.74 827.20h3.1v3.4h-3.1zM1546.74 827.20h3.1v3.4h-3.1zM1552.75 827.20h3.1v3.4h-3.1zM1558.75 827.20h3.1v3.4h-3.1zM1564.76 827.20h3.1v3.4h-3.1zM1570.76 827.20h3.1v3.4h-3.1zM1576.77 827.20h3.1v3.4h-3.1zM1582.77 827.20h3.1v3.4h-3.1zM1588.78 827.20h3.1v3.4h-3.1zM1594.78 827.20h3.1v3.4h-3.1zM1600.79 827.20h3.1v3.4h-3.1zM1606.79 827.20h3.1v3.4h-3.1zM1612.80 827.20h3.1v3.4h-3.1zM1618.80 827.20h3.1v3.4h-3.1zM1624.81 827.20h3.1v3.4h-3.1zM1630.81 827.20h3.1v3.4h-3.1zM1636.82 827.20h3.1v3.4h-3.1zM1642.82 827.20h3.1v3.4h-3.1zM1648.83 827.20h3.1v3.4h-3.1zM1654.83 827.20h3.1v3.4h-3.1zM1660.84 827.20h3.1v3.4h-3.1zM1666.84 827.20h3.1v3.4h-3.1zM1672.85 827.20h3.1v3.4h-3.1z"/>
<g transform="translate(1182.75,861.12) scale(0.9866,1)"><text font-size="30.58" fill="#d9d5cf" stroke="#010029" stroke-width="0.64" font-family="Liberation Sans" font-weight="normal">3</text></g>
<path fill="#d0ccc6" d="M1199.35 857.40h3.1v3.4h-3.1zM1210.35 857.40h3.1v3.4h-3.1zM1216.36 857.40h3.1v3.4h-3.1zM1222.36 857.40h3.1v3.4h-3.1zM1228.37 857.40h3.1v3.4h-3.1zM1234.38 857.40h3.1v3.4h-3.1zM1240.38 857.40h3.1v3.4h-3.1zM1246.39 857.40h3.1v3.4h-3.1zM1252.40 857.40h3.1v3.4h-3.1zM1258.40 857.40h3.1v3.4h-3.1zM1264.41 857.40h3.1v3.4h-3.1zM1270.41 857.40h3.1v3.4h-3.1zM1276.42 857.40h3.1v3.4h-3.1zM1282.43 857.40h3.1v3.4h-3.1zM1288.43 857.40h3.1v3.4h-3.1zM1294.44 857.40h3.1v3.4h-3.1zM1300.45 857.40h3.1v3.4h-3.1zM1306.45 857.40h3.1v3.4h-3.1zM1312.46 857.40h3.1v3.4h-3.1zM1318.47 857.40h3.1v3.4h-3.1zM1324.47 857.40h3.1v3.4h-3.1zM1330.48 857.40h3.1v3.4h-3.1zM1336.49 857.40h3.1v3.4h-3.1zM1342.49 857.40h3.1v3.4h-3.1zM1348.50 857.40h3.1v3.4h-3.1zM1354.51 857.40h3.1v3.4h-3.1zM1360.51 857.40h3.1v3.4h-3.1zM1366.52 857.40h3.1v3.4h-3.1zM1372.53 857.40h3.1v3.4h-3.1zM1378.53 857.40h3.1v3.4h-3.1zM1384.54 857.40h3.1v3.4h-3.1zM1390.54 857.40h3.1v3.4h-3.1zM1396.55 857.40h3.1v3.4h-3.1zM1402.56 857.40h3.1v3.4h-3.1zM1408.56 857.40h3.1v3.4h-3.1zM1414.57 857.40h3.1v3.4h-3.1zM1420.58 857.40h3.1v3.4h-3.1zM1426.58 857.40h3.1v3.4h-3.1zM1432.59 857.40h3.1v3.4h-3.1zM1438.60 857.40h3.1v3.4h-3.1zM1444.60 857.40h3.1v3.4h-3.1zM1450.61 857.40h3.1v3.4h-3.1zM1456.62 857.40h3.1v3.4h-3.1zM1462.62 857.40h3.1v3.4h-3.1zM1468.63 857.40h3.1v3.4h-3.1zM1474.64 857.40h3.1v3.4h-3.1zM1480.64 857.40h3.1v3.4h-3.1zM1486.65 857.40h3.1v3.4h-3.1zM1492.66 857.40h3.1v3.4h-3.1zM1498.66 857.40h3.1v3.4h-3.1zM1504.67 857.40h3.1v3.4h-3.1zM1510.67 857.40h3.1v3.4h-3.1zM1516.68 857.40h3.1v3.4h-3.1zM1522.69 857.40h3.1v3.4h-3.1zM1528.69 857.40h3.1v3.4h-3.1zM1534.70 857.40h3.1v3.4h-3.1zM1540.71 857.40h3.1v3.4h-3.1zM1546.71 857.40h3.1v3.4h-3.1zM1552.72 857.40h3.1v3.4h-3.1zM1558.73 857.40h3.1v3.4h-3.1zM1564.73 857.40h3.1v3.4h-3.1zM1570.74 857.40h3.1v3.4h-3.1zM1576.75 857.40h3.1v3.4h-3.1zM1582.75 857.40h3.1v3.4h-3.1zM1588.76 857.40h3.1v3.4h-3.1zM1594.77 857.40h3.1v3.4h-3.1zM1600.77 857.40h3.1v3.4h-3.1zM1606.78 857.40h3.1v3.4h-3.1zM1612.79 857.40h3.1v3.4h-3.1zM1618.79 857.40h3.1v3.4h-3.1zM1624.80 857.40h3.1v3.4h-3.1zM1630.80 857.40h3.1v3.4h-3.1zM1636.81 857.40h3.1v3.4h-3.1zM1642.82 857.40h3.1v3.4h-3.1zM1648.82 857.40h3.1v3.4h-3.1zM1654.83 857.40h3.1v3.4h-3.1zM1660.84 857.40h3.1v3.4h-3.1zM1666.84 857.40h3.1v3.4h-3.1zM1672.85 857.40h3.1v3.4h-3.1z"/>
<g transform="translate(1183.15,891.11) scale(1.0856,1)"><text font-size="29.31" fill="#d9d5cf" stroke="#010029" stroke-width="0.62" font-family="Liberation Sans" font-weight="normal">4</text></g>
<path fill="#d0ccc6" d="M1200.55 887.40h3.1v3.4h-3.1zM1211.40 887.40h3.1v3.4h-3.1zM1217.41 887.40h3.1v3.4h-3.1zM1223.41 887.40h3.1v3.4h-3.1zM1229.42 887.40h3.1v3.4h-3.1zM1235.42 887.40h3.1v3.4h-3.1zM1241.43 887.40h3.1v3.4h-3.1zM1247.44 887.40h3.1v3.4h-3.1zM1253.44 887.40h3.1v3.4h-3.1zM1259.45 887.40h3.1v3.4h-3.1zM1265.45 887.40h3.1v3.4h-3.1zM1271.46 887.40h3.1v3.4h-3.1zM1277.46 887.40h3.1v3.4h-3.1zM1283.47 887.40h3.1v3.4h-3.1zM1289.48 887.40h3.1v3.4h-3.1zM1295.48 887.40h3.1v3.4h-3.1zM1301.49 887.40h3.1v3.4h-3.1zM1307.49 887.40h3.1v3.4h-3.1zM1313.50 887.40h3.1v3.4h-3.1zM1319.51 887.40h3.1v3.4h-3.1zM1325.51 887.40h3.1v3.4h-3.1zM1331.52 887.40h3.1v3.4h-3.1zM1337.52 887.40h3.1v3.4h-3.1zM1343.53 887.40h3.1v3.4h-3.1zM1349.53 887.40h3.1v3.4h-3.1zM1355.54 887.40h3.1v3.4h-3.1zM1361.55 887.40h3.1v3.4h-3.1zM1367.55 887.40h3.1v3.4h-3.1zM1373.56 887.40h3.1v3.4h-3.1zM1379.56 887.40h3.1v3.4h-3.1zM1385.57 887.40h3.1v3.4h-3.1zM1391.58 887.40h3.1v3.4h-3.1zM1397.58 887.40h3.1v3.4h-3.1zM1403.59 887.40h3.1v3.4h-3.1zM1409.59 887.40h3.1v3.4h-3.1zM1415.60 887.40h3.1v3.4h-3.1zM1421.60 887.40h3.1v3.4h-3.1zM1427.61 887.40h3.1v3.4h-3.1zM1433.62 887.40h3.1v3.4h-3.1zM1439.62 887.40h3.1v3.4h-3.1zM1445.63 887.40h3.1v3.4h-3.1zM1451.63 887.40h3.1v3.4h-3.1zM1457.64 887.40h3.1v3.4h-3.1zM1463.65 887.40h3.1v3.4h-3.1zM1469.65 887.40h3.1v3.4h-3.1zM1475.66 887.40h3.1v3.4h-3.1zM1481.66 887.40h3.1v3.4h-3.1zM1487.67 887.40h3.1v3.4h-3.1zM1493.67 887.40h3.1v3.4h-3.1zM1499.68 887.40h3.1v3.4h-3.1zM1505.69 887.40h3.1v3.4h-3.1zM1511.69 887.40h3.1v3.4h-3.1zM1517.70 887.40h3.1v3.4h-3.1zM1523.70 887.40h3.1v3.4h-3.1zM1529.71 887.40h3.1v3.4h-3.1zM1535.72 887.40h3.1v3.4h-3.1zM1541.72 887.40h3.1v3.4h-3.1zM1547.73 887.40h3.1v3.4h-3.1zM1553.73 887.40h3.1v3.4h-3.1zM1559.74 887.40h3.1v3.4h-3.1zM1565.74 887.40h3.1v3.4h-3.1zM1571.75 887.40h3.1v3.4h-3.1zM1577.76 887.40h3.1v3.4h-3.1zM1583.76 887.40h3.1v3.4h-3.1zM1589.77 887.40h3.1v3.4h-3.1zM1595.77 887.40h3.1v3.4h-3.1zM1601.78 887.40h3.1v3.4h-3.1zM1607.79 887.40h3.1v3.4h-3.1zM1613.79 887.40h3.1v3.4h-3.1zM1619.80 887.40h3.1v3.4h-3.1zM1625.80 887.40h3.1v3.4h-3.1zM1631.81 887.40h3.1v3.4h-3.1zM1637.81 887.40h3.1v3.4h-3.1zM1643.82 887.40h3.1v3.4h-3.1zM1649.83 887.40h3.1v3.4h-3.1zM1655.83 887.40h3.1v3.4h-3.1zM1661.84 887.40h3.1v3.4h-3.1zM1667.84 887.40h3.1v3.4h-3.1zM1673.85 887.40h3.1v3.4h-3.1z"/>
<g transform="translate(1182.68,921.10) scale(1.0538,1)"><text font-size="28.64" fill="#d9d5cf" stroke="#010029" stroke-width="0.60" font-family="Liberation Sans" font-weight="normal">5</text></g>
<path fill="#d0ccc6" d="M1199.35 917.40h3.1v3.4h-3.1zM1210.35 917.40h3.1v3.4h-3.1zM1216.36 917.40h3.1v3.4h-3.1zM1222.36 917.40h3.1v3.4h-3.1zM1228.37 917.40h3.1v3.4h-3.1zM1234.38 917.40h3.1v3.4h-3.1zM1240.38 917.40h3.1v3.4h-3.1zM1246.39 917.40h3.1v3.4h-3.1zM1252.40 917.40h3.1v3.4h-3.1zM1258.40 917.40h3.1v3.4h-3.1zM1264.41 917.40h3.1v3.4h-3.1zM1270.41 917.40h3.1v3.4h-3.1zM1276.42 917.40h3.1v3.4h-3.1zM1282.43 917.40h3.1v3.4h-3.1zM1288.43 917.40h3.1v3.4h-3.1zM1294.44 917.40h3.1v3.4h-3.1zM1300.45 917.40h3.1v3.4h-3.1zM1306.45 917.40h3.1v3.4h-3.1zM1312.46 917.40h3.1v3.4h-3.1zM1318.47 917.40h3.1v3.4h-3.1zM1324.47 917.40h3.1v3.4h-3.1zM1330.48 917.40h3.1v3.4h-3.1zM1336.49 917.40h3.1v3.4h-3.1zM1342.49 917.40h3.1v3.4h-3.1zM1348.50 917.40h3.1v3.4h-3.1zM1354.51 917.40h3.1v3.4h-3.1zM1360.51 917.40h3.1v3.4h-3.1zM1366.52 917.40h3.1v3.4h-3.1zM1372.53 917.40h3.1v3.4h-3.1zM1378.53 917.40h3.1v3.4h-3.1zM1384.54 917.40h3.1v3.4h-3.1zM1390.54 917.40h3.1v3.4h-3.1zM1396.55 917.40h3.1v3.4h-3.1zM1402.56 917.40h3.1v3.4h-3.1zM1408.56 917.40h3.1v3.4h-3.1zM1414.57 917.40h3.1v3.4h-3.1zM1420.58 917.40h3.1v3.4h-3.1zM1426.58 917.40h3.1v3.4h-3.1zM1432.59 917.40h3.1v3.4h-3.1zM1438.60 917.40h3.1v3.4h-3.1zM1444.60 917.40h3.1v3.4h-3.1zM1450.61 917.40h3.1v3.4h-3.1zM1456.62 917.40h3.1v3.4h-3.1zM1462.62 917.40h3.1v3.4h-3.1zM1468.63 917.40h3.1v3.4h-3.1zM1474.64 917.40h3.1v3.4h-3.1zM1480.64 917.40h3.1v3.4h-3.1zM1486.65 917.40h3.1v3.4h-3.1zM1492.66 917.40h3.1v3.4h-3.1zM1498.66 917.40h3.1v3.4h-3.1zM1504.67 917.40h3.1v3.4h-3.1zM1510.67 917.40h3.1v3.4h-3.1zM1516.68 917.40h3.1v3.4h-3.1zM1522.69 917.40h3.1v3.4h-3.1zM1528.69 917.40h3.1v3.4h-3.1zM1534.70 917.40h3.1v3.4h-3.1zM1540.71 917.40h3.1v3.4h-3.1zM1546.71 917.40h3.1v3.4h-3.1zM1552.72 917.40h3.1v3.4h-3.1zM1558.73 917.40h3.1v3.4h-3.1zM1564.73 917.40h3.1v3.4h-3.1zM1570.74 917.40h3.1v3.4h-3.1zM1576.75 917.40h3.1v3.4h-3.1zM1582.75 917.40h3.1v3.4h-3.1zM1588.76 917.40h3.1v3.4h-3.1zM1594.77 917.40h3.1v3.4h-3.1zM1600.77 917.40h3.1v3.4h-3.1zM1606.78 917.40h3.1v3.4h-3.1zM1612.79 917.40h3.1v3.4h-3.1zM1618.79 917.40h3.1v3.4h-3.1zM1624.80 917.40h3.1v3.4h-3.1zM1630.80 917.40h3.1v3.4h-3.1zM1636.81 917.40h3.1v3.4h-3.1zM1642.82 917.40h3.1v3.4h-3.1zM1648.82 917.40h3.1v3.4h-3.1zM1654.83 917.40h3.1v3.4h-3.1zM1660.84 917.40h3.1v3.4h-3.1zM1666.84 917.40h3.1v3.4h-3.1zM1672.85 917.40h3.1v3.4h-3.1z"/></svg>
</body></html>
